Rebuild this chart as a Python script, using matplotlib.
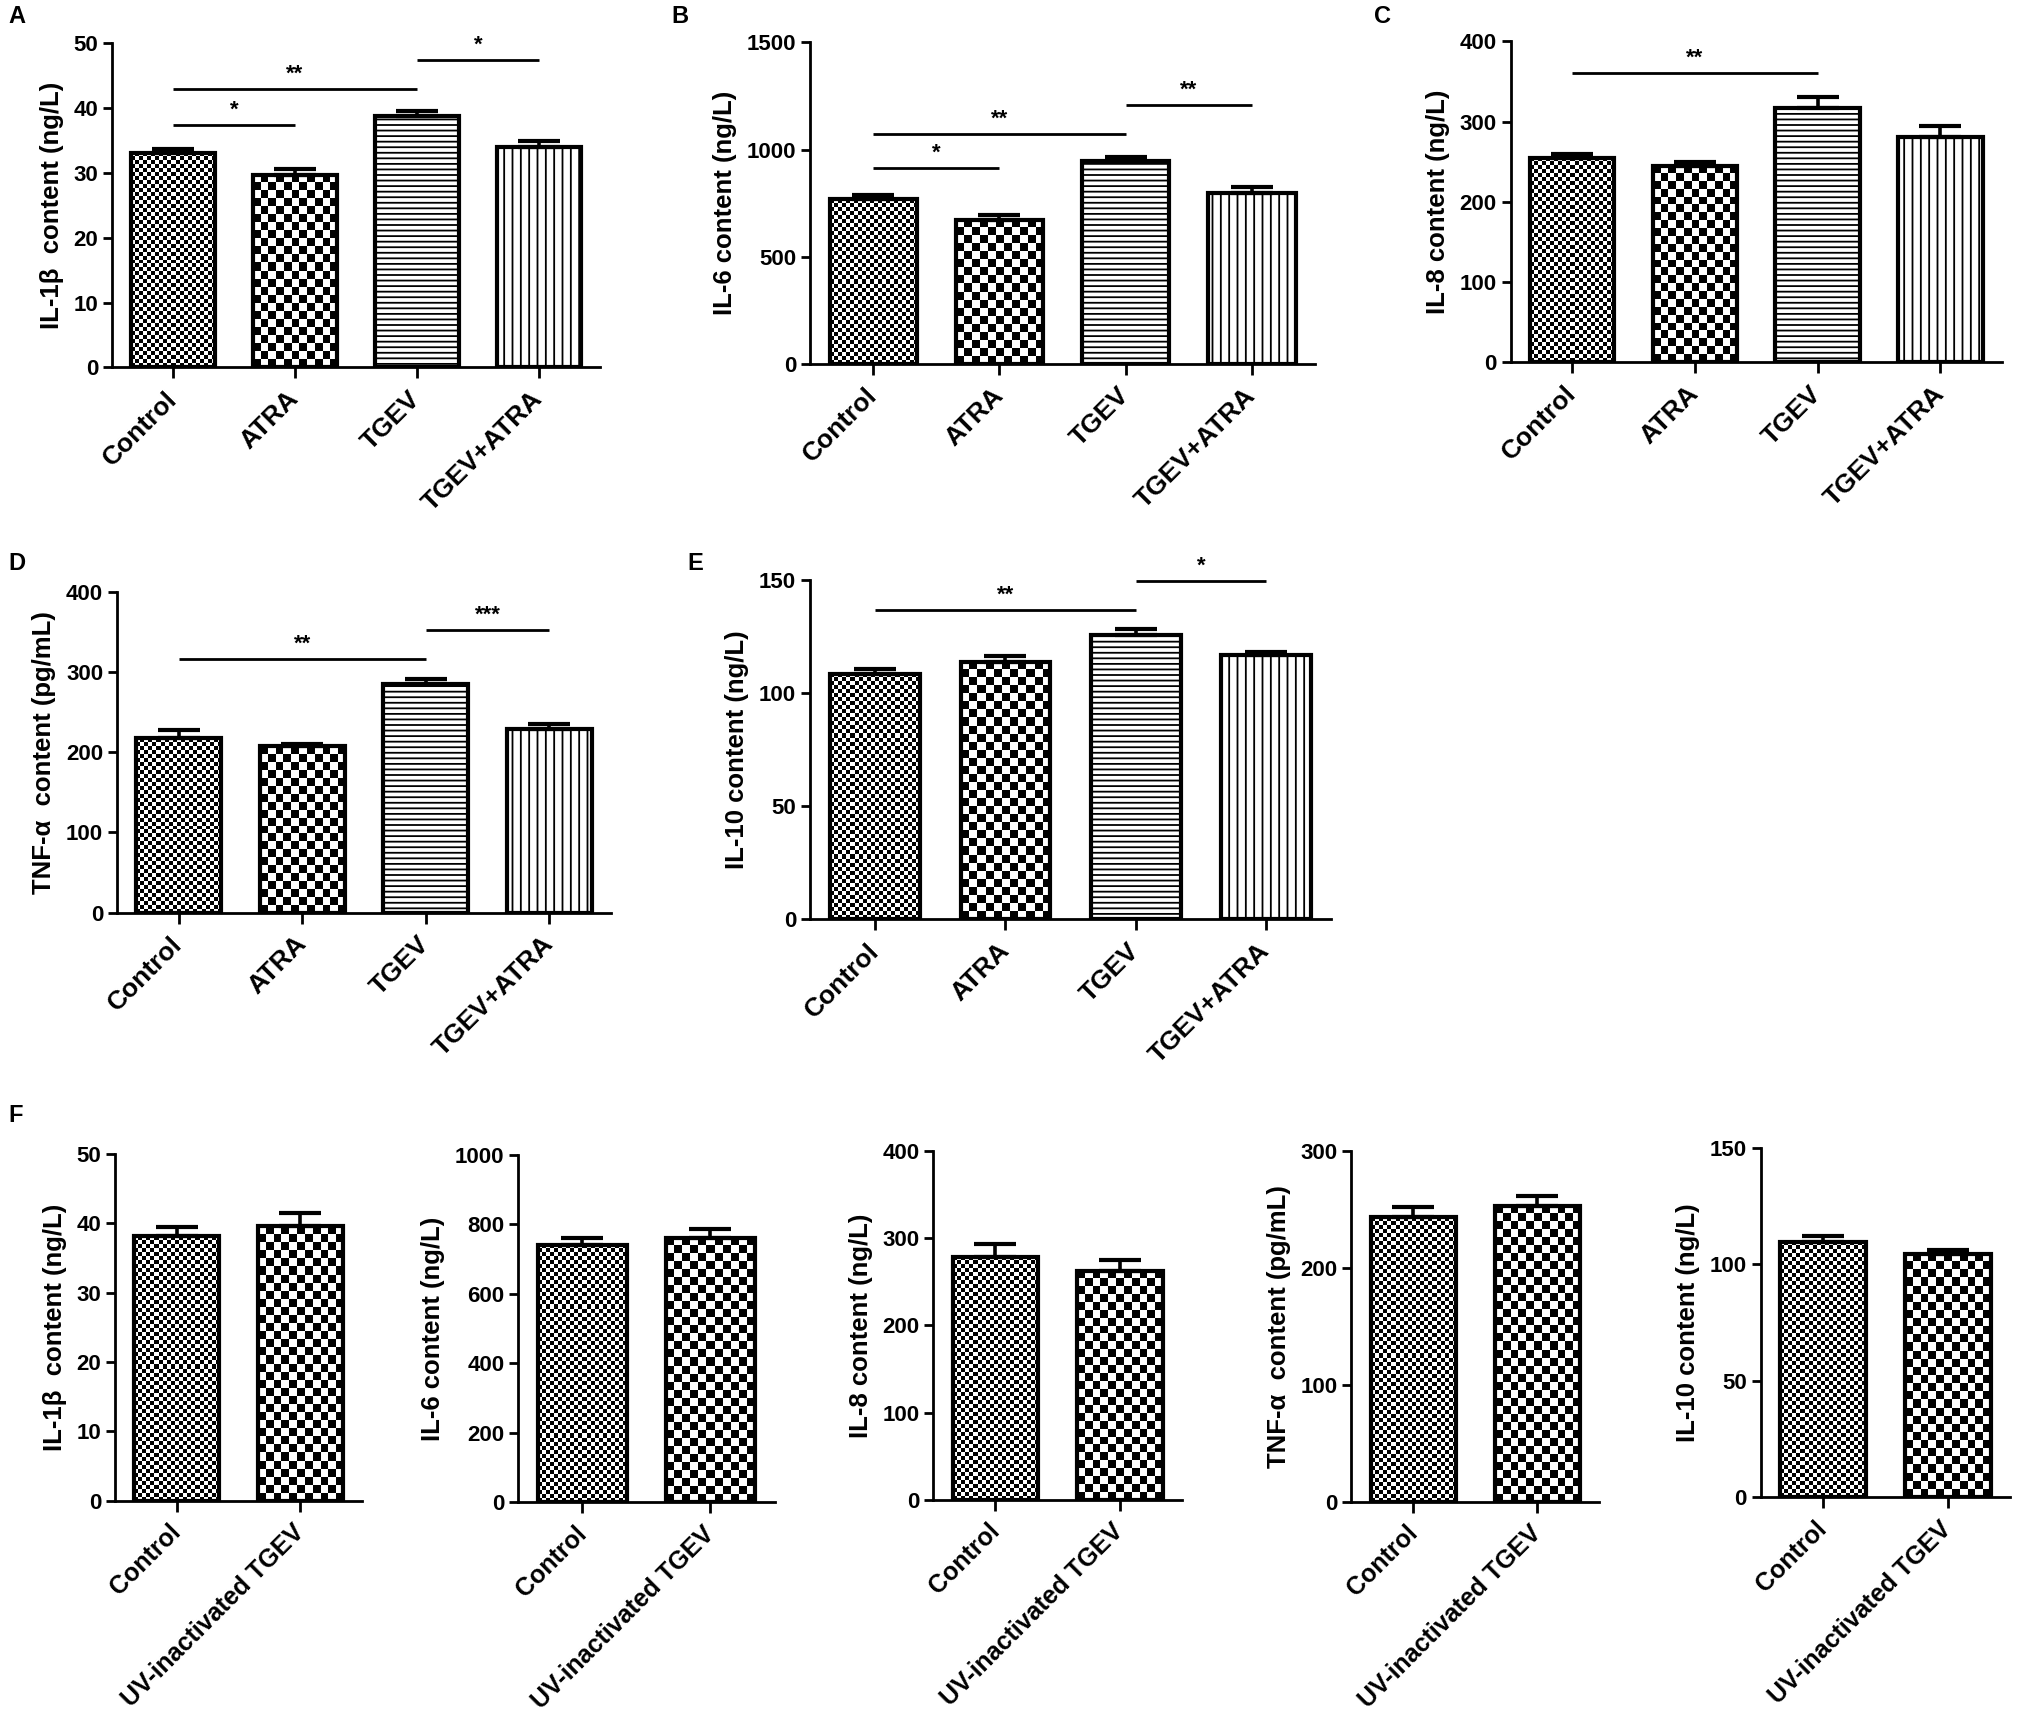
import numpy as np
import matplotlib
matplotlib.use("Agg")
import matplotlib.pyplot as plt

plt.rcParams['font.family'] = ['Liberation Sans', 'DejaVu Sans']
plt.rcParams['font.weight'] = 'bold'
plt.rcParams['hatch.linewidth'] = 1.3

# ---- data ----
groups = ["Control", "ATRA", "TGEV", "TGEV+ATRA"]
groups_f = ["Control", "UV-inactivated TGEV"]

il1b = [33.0, 29.7, 38.7, 34.0]
il1b_err = [0.7, 0.9, 0.8, 0.9]
il6 = [769, 672, 947, 797]
il6_err = [21, 24, 17, 30]
il8 = [255, 245, 317, 281]
il8_err = [5, 5, 14, 13]
tnf = [218, 207, 285, 229]
tnf_err = [9, 3, 6, 6]
il10 = [108.5, 114.1, 125.8, 116.8]
il10_err = [2.4, 2.3, 2.8, 1.7]

f_il1b = [38.15, 39.6]
f_il1b_err = [1.35, 1.9]
f_il6 = [741, 761]
f_il6_err = [20, 25]
f_il8 = [279, 263]
f_il8_err = [14, 12]
f_tnf = [244, 253.5]
f_tnf_err = [8, 8.5]
f_il10 = [109.7, 104.4]
f_il10_err = [2.7, 1.9]

# significance brackets: (from, to, height, stars)
sig_a = [(0, 1, 37.4, '*'), (0, 2, 42.9, '**'), (2, 3, 47.4, '*')]
sig_b = [(0, 1, 914, '*'), (0, 2, 1073, '**'), (2, 3, 1209, '**')]
sig_c = [(0, 2, 361, '**')]
sig_d = [(0, 2, 316, '**'), (2, 3, 352, '***')]
sig_e = [(0, 2, 137, '**'), (2, 3, 149.9, '*')]

# fill style per group: ('checker', cell px) or ('hatch', pattern)
fills4 = [('checker', 4), ('checker', 8), ('hatch', '---'), ('hatch', '||')]
fills2 = [('checker', 4), ('checker', 8)]

W, H = 2017, 1725
fig = plt.figure(figsize=(W / 100, H / 100), dpi=100)

LW = 2.0


def checker(ax, bar, cell):
    (x0, y0), (x1, y1) = ax.transData.transform(
        [[bar.get_x(), bar.get_y()],
         [bar.get_x() + bar.get_width(), bar.get_y() + bar.get_height()]])
    nx = max(1, int(round((x1 - x0) / cell)))
    ny = max(1, int(round((y1 - y0) / cell)))
    img = np.indices((ny, nx)).sum(axis=0) % 2
    im = ax.imshow(img, cmap='gray', vmin=0, vmax=1, interpolation='nearest',
                   aspect='auto', origin='lower', zorder=1,
                   extent=(bar.get_x(), bar.get_x() + bar.get_width(),
                           bar.get_y(), bar.get_y() + bar.get_height()))
    im.set_clip_path(bar)


def panel(rect, cats, vals, errs, fills, ymax, ystep, ylabel, sigs=(),
          fs_x=19):
    ax = fig.add_axes(rect)
    x = np.arange(len(cats))
    ax.set_xlim(-0.5, len(cats) - 0.5)
    ax.set_ylim(0, ymax)
    bars = ax.bar(x, vals, width=0.69, color='white', edgecolor='black',
                  linewidth=3.0, zorder=2)
    for b, (kind, arg) in zip(bars, fills):
        if kind == 'checker':
            b.set_facecolor('none')
            checker(ax, b, arg)
        else:
            b.set_hatch(arg)
    ax.set_xlim(-0.5, len(cats) - 0.5)
    ax.set_ylim(0, ymax)
    ax.errorbar(x, vals, yerr=[np.zeros(len(vals)), errs], fmt='none',
                ecolor='black', elinewidth=2.6, capsize=15,
                capthick=3.0, zorder=3, clip_on=False)
    for i, j, y, s in sigs:
        ax.plot([x[i], x[j]], [y, y], color='black', lw=LW, zorder=3,
                clip_on=False, solid_capstyle='butt')
        ax.annotate(s, ((x[i] + x[j]) / 2, y), xytext=(0, 3),
                    textcoords='offset points', ha='center', va='bottom',
                    fontsize=16, fontweight='bold')
    ax.set_yticks(np.arange(0, ymax + ystep / 2, ystep))
    ax.set_xticks(x)
    ax.set_xticklabels(cats, rotation=45, ha='right', va='center',
                       rotation_mode='anchor', fontsize=fs_x,
                       fontweight='bold')
    for t in ax.get_yticklabels():
        t.set_fontsize(16)
        t.set_fontweight('bold')
    ax.set_ylabel(ylabel, fontsize=18.5, fontweight='bold', labelpad=7)
    for side in ('top', 'right'):
        ax.spines[side].set_visible(False)
    for side in ('left', 'bottom'):
        ax.spines[side].set_linewidth(LW)
    ax.tick_params(axis='y', direction='out', length=6.5, width=LW, pad=3.5)
    ax.tick_params(axis='x', direction='out', length=8, width=LW, pad=12)
    return ax


def rect(x0, x1, ytop, ybot):
    # positions given as fractions from the top-left corner of the image
    return [x0, 1 - ybot, x1 - x0, ybot - ytop]


panel(rect(0.0555, 0.2975, 0.025, 0.213), groups, il1b, il1b_err, fills4,
      50, 10, 'IL-1β  content (ng/L)', sig_a)
panel(rect(0.4016, 0.652, 0.0245, 0.211), groups, il6, il6_err, fills4,
      1500, 500, 'IL-6 content (ng/L)', sig_b)
panel(rect(0.749, 0.9925, 0.024, 0.210), groups, il8, il8_err, fills4,
      400, 100, 'IL-8 content (ng/L)', sig_c)
panel(rect(0.058, 0.303, 0.343, 0.529), groups, tnf, tnf_err, fills4,
      400, 100, 'TNF-α  content (pg/mL)', sig_d)
panel(rect(0.4016, 0.660, 0.3365, 0.533), groups, il10, il10_err, fills4,
      150, 50, 'IL-10 content (ng/L)', sig_e)

panel(rect(0.057, 0.1795, 0.6688, 0.870), groups_f, f_il1b, f_il1b_err, fills2,
      50, 10, 'IL-1β  content (ng/L)', fs_x=18)
panel(rect(0.257, 0.384, 0.6695, 0.871), groups_f, f_il6, f_il6_err, fills2,
      1000, 200, 'IL-6 content (ng/L)', fs_x=18)
panel(rect(0.4627, 0.586, 0.6674, 0.8694), groups_f, f_il8, f_il8_err, fills2,
      400, 100, 'IL-8 content (ng/L)', fs_x=18)
panel(rect(0.670, 0.793, 0.6674, 0.8705), groups_f, f_tnf, f_tnf_err, fills2,
      300, 100, 'TNF-α  content (pg/mL)', fs_x=18)
panel(rect(0.873, 0.9965, 0.6655, 0.868), groups_f, f_il10, f_il10_err, fills2,
      150, 50, 'IL-10 content (ng/L)', fs_x=18)

letters = [('A', 0.004, 0.003), ('B', 0.333, 0.003), ('C', 0.681, 0.003),
           ('D', 0.004, 0.320), ('E', 0.341, 0.320), ('F', 0.004, 0.640)]
for s, lx, ly in letters:
    fig.text(lx, 1 - ly, s, fontsize=17, fontweight='bold', va='top', ha='left')

fig.savefig('out.png', dpi=100, facecolor='white')
